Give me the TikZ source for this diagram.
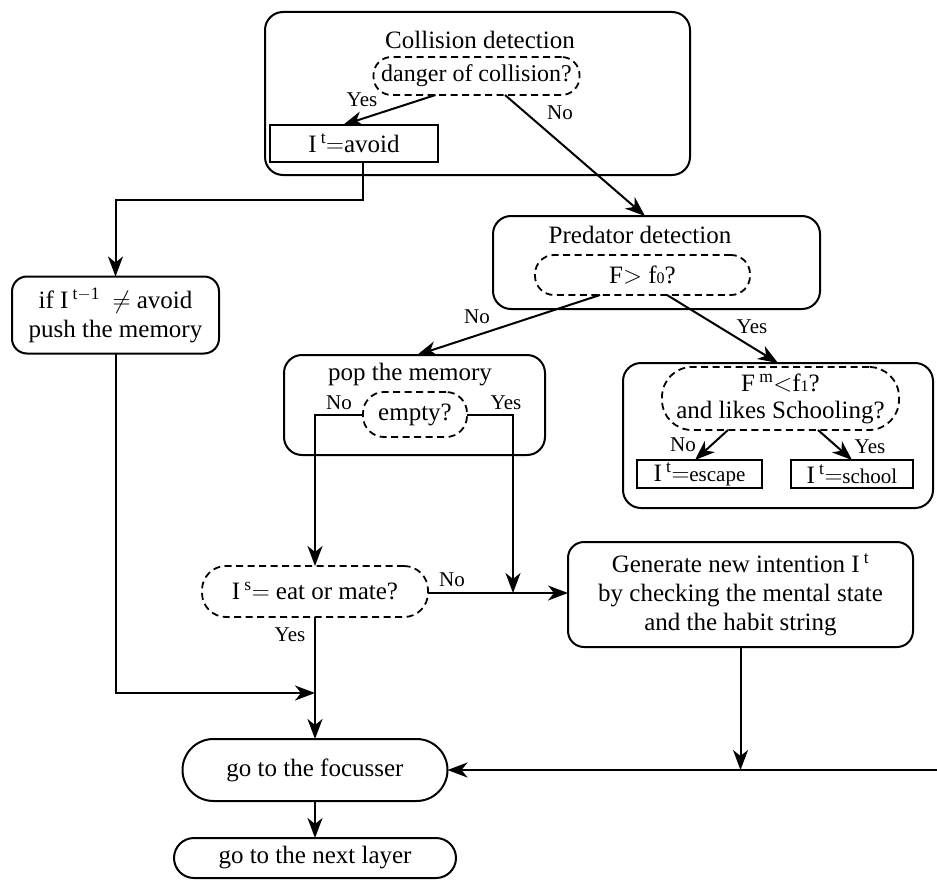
\documentclass[tikz,border=0pt]{standalone}
\usepackage{fontspec}
\setmainfont{Liberation Serif}
\usetikzlibrary{arrows.meta,calc}
\newcommand{\smallnum}[1]{{\fontsize{16}{16}\selectfont #1}}
\newcommand{\supr}[1]{\,\textsuperscript{#1}}
\begin{document}
\begin{tikzpicture}[x=1pt,y=-1pt,
  every node/.style={font=\fontsize{25}{29}\selectfont, inner sep=0pt, outer sep=0pt},
  box/.style={draw, line width=2pt, rounded corners=#1},
  box/.default=16pt,
  sqbox/.style={draw, line width=2pt},
  dbox/.style={draw, line width=1.8pt, dash pattern=on 7pt off 4.5pt, rounded corners=#1},
  lbl/.style={font=\fontsize{21}{24}\selectfont},
  conn/.style={line width=2pt},
  arr/.style={conn, -{Stealth[length=20pt,width=15pt,inset=6pt]}}
]
\useasboundingbox (0,0) rectangle (937,880);

% Collision detection
\node[box=18pt, minimum width=425pt, minimum height=163pt] (coll) at (477.5,93.5) {};
\node (colltxt) at (480,40) {Collision detection};
\node[dbox=18pt, minimum width=206pt, minimum height=38pt] (danger) at (476.5,76) {\fontsize{24}{28}\selectfont danger of collision?};
\node[sqbox, minimum width=168pt, minimum height=37pt] (avoid) at (354,143.5) {I\supr{t}$=$avoid};
\node[lbl] (yes1) at (362,100) {Yes};
\node[lbl] (no1) at (560,113) {No};

% push
\node[box=15pt, minimum width=207pt, minimum height=77pt, align=center] (push) at (115.5,315)
  {if I\supr{t$-$1}\ \ $\neq$ avoid\\ push the memory};

% Predator detection
\node[box=18pt, minimum width=327pt, minimum height=93pt] (pred) at (656.5,262.5) {};
\node (predtxt) at (640,235) {Predator detection};
\node[dbox=19pt, minimum width=215pt, minimum height=40pt] (fcond) at (642.5,275) {F$>$ f\smallnum{0}?};
\node[lbl] (no2) at (477,317) {No};
\node[lbl] (yes2) at (752,327) {Yes};

% pop the memory
\node[box=18pt, minimum width=261pt, minimum height=100pt] (pop) at (414.5,405) {};
\node (poptxt) at (410,375) {pop the memory};
\node[dbox=21pt, minimum width=104pt, minimum height=45pt] (empty) at (415,414.5) {empty?};
\node[lbl] (no3) at (339,403) {No};
\node[lbl] (yes3) at (506,403) {Yes};

% schooling box
\node[box=18pt, minimum width=310pt, minimum height=145pt] (sbox) at (778,435.5) {};
\node[dbox=30pt, minimum width=237pt, minimum height=63pt, align=center] (fm) at (780.5,398.5)
  {F\supr{m}$<$f\smallnum{1}?\\[-2pt]and likes Schooling?};
\node[sqbox, minimum width=125pt, minimum height=28pt] (esc) at (699.5,474)
  {I\supr{t}$=${\fontsize{21}{24}\selectfont escape}};
\node[sqbox, minimum width=122pt, minimum height=28pt] (sch) at (852,474)
  {I\supr{t}$=${\fontsize{21}{24}\selectfont school}};
\node[lbl] (no4) at (683,445) {No};
\node[lbl] (yes4) at (870,447) {Yes};

% I^s = eat or mate
\node[dbox=24pt, minimum width=226pt, minimum height=51pt] (is) at (315,591.5) {I\supr{s}$=$ eat or mate?};
\node[lbl] (no5) at (452,580) {No};
\node[lbl] (yes5) at (290,635) {Yes};

% Generate
\node[box=16pt, minimum width=345pt, minimum height=105pt, align=center] (gen) at (740.5,594.5)
  {Generate new intention I\supr{t}\\ by checking the mental state\\ and the habit string};

% focusser and next layer
\node[box=31pt, minimum width=265pt, minimum height=62pt] (focus) at (315,770) {go to the focusser};
\node[box=20pt, minimum width=282pt, minimum height=40pt] (next) at (315,858) {go to the next layer};

% coordinates
\coordinate (j1) at (315,693);
\coordinate (j2) at (513,593);
\coordinate (rt) at (937,770);

% connectors
\draw[arr] ($(danger.south)+(-41,0)$) -- ($(avoid.north)+(-11,0)$);
\draw[arr] ($(danger.south)+(28.5,0)$) -- ($(pred.north)+(-11.5,0)$);
\draw[arr] ($(avoid.south)+(9,0)$) -- ++(0,38) -| (push.north);
\draw[arr] (push.south) |- (j1);
\draw[arr] ($(fcond.south)+(-42.5,0)$) -- ($(pop.north)+(2.5,0)$);
\draw[arr] ($(fcond.south)+(24.5,0)$) -- (sbox.north);
\draw[arr] ($(fm.south)+(-52.5,0)$) -- ($(esc.north)+(-4.5,0)$);
\draw[arr] ($(fm.south)+(37.5,0)$) -- (sch.north);
\draw[arr] (empty.west) -| (is.north);
\draw[arr] (empty.east) -| (j2);
\draw[arr] (is.east |- j2) -- (gen.west |- j2);
\draw[arr] (is.south) -- (focus.north);
\draw[arr] (gen.south) -- (gen.south |- rt);
\draw[arr] (rt) -- (focus.east);
\draw[arr] (focus.south) -- (next.north);
\end{tikzpicture}
\end{document}
